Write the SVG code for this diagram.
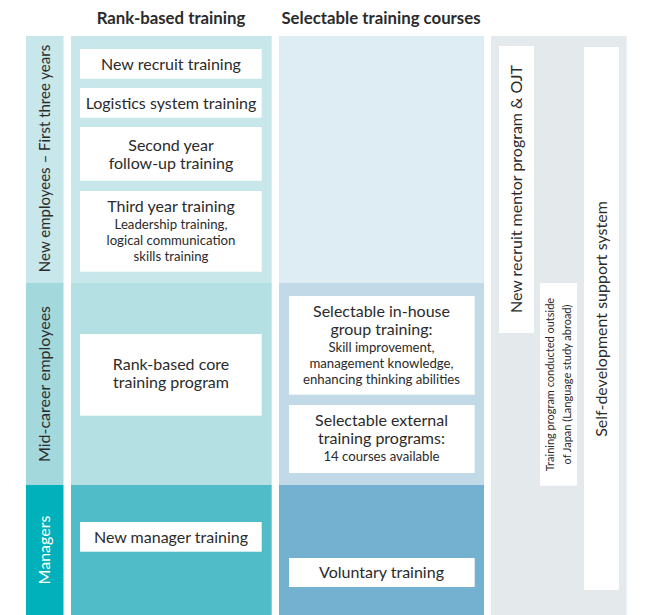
<svg xmlns="http://www.w3.org/2000/svg" width="646" height="615" viewBox="0 0 646 615">
<style>
text{font-family:Lato,"Noto Sans","Liberation Sans",sans-serif;fill:#2b2b2b;text-anchor:middle}
.h{font-weight:bold;font-size:16.8px}
.b{fill:#fff}
.t{font-size:16px}
.s{font-size:13.2px}
.xs{font-size:11px}
.w{fill:#fff}
</style>
<rect width="646" height="615" fill="#fff"/>
<g id="headers">
<text class="h" x="171" y="24">Rank-based training</text>
<text class="h" x="381" y="24">Selectable training courses</text>
</g>
<g id="backgrounds">
<rect x="26" y="36" width="37.5" height="247" fill="#c7e7ea"/>
<rect x="26" y="283" width="37.5" height="202" fill="#a3d8dd"/>
<rect x="26" y="485" width="37.5" height="130" fill="#00b0bb"/>
<rect x="71" y="36" width="200.7" height="247" fill="#c7e7ea"/>
<rect x="71" y="283" width="200.7" height="202" fill="#b5e0e3"/>
<rect x="71" y="485" width="200.7" height="130" fill="#4fbcc8"/>
<rect x="279" y="36" width="205" height="247" fill="#deecf4"/>
<rect x="279" y="283" width="205" height="202" fill="#c2d9e8"/>
<rect x="279" y="485" width="205" height="130" fill="#74b1d1"/>
<rect x="491" y="36" width="135.7" height="579" fill="#e4e9ec"/>
</g>
<g id="cat-new">
<text class="t" style="font-size:15px" transform="translate(50,158.5) rotate(-90)">New employees – First three years</text>
</g>
<g id="cat-mid">
<text class="t" transform="translate(50,384) rotate(-90)">Mid-career employees</text>
</g>
<g id="cat-mgr">
<text class="t w" transform="translate(50,550) rotate(-90)">Managers</text>
</g>
<g id="new-recruit">
<rect class="b" x="80" y="49" width="181.7" height="29.7"/>
<text class="t" x="171" y="69.5">New recruit training</text>
</g>
<g id="logistics">
<rect class="b" x="80" y="88" width="181.7" height="29.7"/>
<text class="t" x="171" y="108.5">Logistics system training</text>
</g>
<g id="second-year">
<rect class="b" x="80" y="127" width="181.7" height="53.7"/>
<text class="t" x="171" y="151">Second year</text>
<text class="t" x="171" y="169">follow-up training</text>
</g>
<g id="third-year">
<rect class="b" x="80" y="191" width="181.7" height="80.7"/>
<text class="t" x="171" y="212">Third year training</text>
<text class="s" x="171" y="229">Leadership training,</text>
<text class="s" x="171" y="245">logical communication</text>
<text class="s" x="171" y="261">skills training</text>
</g>
<g id="core">
<rect class="b" x="80" y="334" width="181.7" height="81.7"/>
<text class="t" x="171" y="370">Rank-based core</text>
<text class="t" x="171" y="388">training program</text>
</g>
<g id="new-manager">
<rect class="b" x="80" y="522" width="181.7" height="29.7"/>
<text class="t" x="171" y="542.5">New manager training</text>
</g>
<g id="in-house">
<rect class="b" x="289" y="296" width="185.7" height="98.7"/>
<text class="t" x="381.5" y="317">Selectable in-house</text>
<text class="t" x="381.5" y="335">group training:</text>
<text class="s" x="381.5" y="352">Skill improvement,</text>
<text class="s" x="381.5" y="368">management knowledge,</text>
<text class="s" x="381.5" y="384">enhancing thinking abilities</text>
</g>
<g id="external">
<rect class="b" x="289" y="405" width="185.7" height="68"/>
<text class="t" x="381.5" y="426">Selectable external</text>
<text class="t" x="381.5" y="444">training programs:</text>
<text class="s" x="381.5" y="461">14 courses available</text>
</g>
<g id="voluntary">
<rect class="b" x="289" y="558" width="185.7" height="29"/>
<text class="t" x="381.5" y="578">Voluntary training</text>
</g>
<g id="mentor">
<rect class="b" x="499" y="46" width="35" height="287"/>
<text class="t" transform="translate(522,189) rotate(-90)">New recruit mentor program &amp; OJT</text>
</g>
<g id="abroad">
<rect class="b" x="540" y="283" width="37" height="202.7"/>
<text class="xs" transform="translate(554,384.5) rotate(-90)">Training program conducted outside</text>
<text class="xs" transform="translate(571,384.5) rotate(-90)">of Japan (Language study abroad)</text>
</g>
<g id="self-dev">
<rect class="b" x="584" y="47" width="35" height="543"/>
<text class="t" transform="translate(607,319) rotate(-90)">Self-development support system</text>
</g>
<g id="connectors"/>
</svg>
